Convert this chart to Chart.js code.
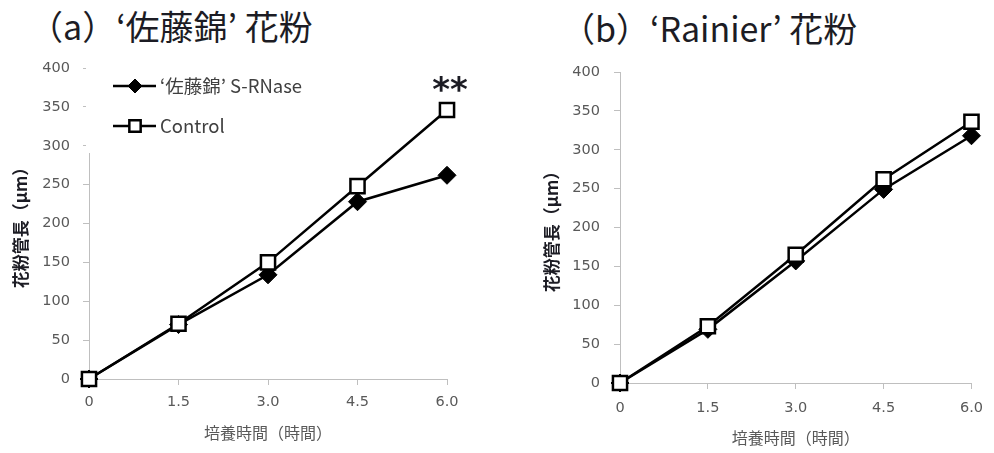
<!DOCTYPE html>
<html>
<head>
<meta charset="utf-8">
<script src="https://cdn.jsdelivr.net/npm/chart.js@4/dist/chart.umd.min.js"></script>
<style>
body { margin:0; background:#fff; width:994px; height:453px; overflow:hidden; position:relative; font-family:'Noto Sans CJK JP', sans-serif; }
.title { position:absolute; font-size:34px; color:#1c1c24; white-space:pre; line-height:1; }
.box { position:absolute; top:0; height:453px; }
</style>
</head>
<body>
<div class="title" style="left:29px; top:9px;">（a）‘佐藤錦’ 花粉</div>
<div class="title" style="left:561px; top:11px;">（b）‘Rainier’ 花粉</div>
<div class="box" style="left:0; width:490px;"><canvas id="chartA"></canvas></div>
<div class="box" style="left:530px; width:464px;"><canvas id="chartB"></canvas></div>
<script>
// data
const hours = ['0', '1.5', '3.0', '4.5', '6.0'];
const satoRNase = [0, 70, 134, 228, 262];
const satoControl = [0, 71, 150, 248, 346];
const rainierRNase = [0, 69, 157, 249, 318];
const rainierControl = [0, 73, 165, 262, 336];
const seriesNames = ['‘佐藤錦’ S-RNase', 'Control'];
const yMax = 400;
const yStep = 50;
const signifMark = '**';

const tickFont = { family: "'DejaVu Sans', sans-serif", size: 14.5 };
const cjk = "'Noto Sans CJK JP', sans-serif";
const gray = '#595959';
const axisGray = '#bfbfbf';

function marker(ctx, style, x, y, r, fill, lw) {
    ctx.save();
    ctx.beginPath();
    if (style === 'rectRot') {
        ctx.moveTo(x, y - r); ctx.lineTo(x + r, y); ctx.lineTo(x, y + r); ctx.lineTo(x - r, y);
    } else {
        const s = r * Math.SQRT1_2;
        ctx.rect(x - s, y - s, 2 * s, 2 * s);
    }
    ctx.closePath();
    ctx.fillStyle = fill;
    ctx.fill();
    ctx.lineWidth = lw;
    ctx.strokeStyle = '#000';
    ctx.stroke();
    ctx.restore();
}

// legend drawn inside the plot area, excel style (line + marker)
const innerLegend = {
    id: 'innerLegend',
    afterDraw(chart, args, opts) {
        if (!opts.show) return;
        const ctx = chart.ctx;
        const a = chart.chartArea;
        ctx.save();
        ctx.fillStyle = '#fff';
        ctx.fillRect(a.left - 3, a.top - 12, 250, 97);
        const rows = [a.top + 18, a.top + 58];
        chart.data.datasets.forEach((ds, i) => {
            const y = rows[i];
            ctx.strokeStyle = '#000';
            ctx.lineWidth = 2.5;
            ctx.beginPath();
            ctx.moveTo(a.left + 24, y);
            ctx.lineTo(a.left + 67, y);
            ctx.stroke();
            if (ds.pointStyle === 'rectRot') marker(ctx, 'rectRot', a.left + 46, y, 7, '#000', 1);
            else marker(ctx, 'rect', a.left + 46, y, 8, '#fff', 2.5);
            ctx.fillStyle = '#404040';
            ctx.font = "18.5px " + cjk;
            ctx.textBaseline = 'middle';
            ctx.textAlign = 'left';
            ctx.fillText(ds.label, a.left + 71, y);
        });
        ctx.restore();
    }
};

// significance mark over the last control point
const signif = {
    id: 'signif',
    afterDraw(chart, args, opts) {
        if (!opts.text) return;
        const ctx = chart.ctx;
        const ds = chart.data.datasets[1];
        const idx = ds.data.length - 1;
        const x = chart.scales.x.getPixelForValue(idx);
        const y = chart.scales.y.getPixelForValue(ds.data[idx]);
        ctx.save();
        ctx.fillStyle = '#1c1c24';
        ctx.font = "bold 34px 'DejaVu Sans', sans-serif";
        ctx.textAlign = 'center';
        ctx.textBaseline = 'middle';
        ctx.fillText(opts.text, x + 3, y - 18);
        ctx.restore();
    }
};

function makeChart(id, rnase, control, lay) {
    const ctx = document.getElementById(id).getContext('2d');
    return new Chart(ctx, {
        type: 'line',
        data: {
            labels: hours,
            datasets: [{
                label: seriesNames[0],
                data: rnase,
                borderColor: '#000',
                borderWidth: 2.5,
                pointStyle: 'rectRot',
                pointRadius: 9,
                pointBackgroundColor: '#000',
                pointBorderColor: '#000',
                pointBorderWidth: 1,
                tension: 0,
                clip: false,
                order: 1
            }, {
                label: seriesNames[1],
                data: control,
                borderColor: '#000',
                borderWidth: 2.5,
                pointStyle: 'rect',
                pointRadius: 10,
                pointBackgroundColor: '#fff',
                pointBorderColor: '#000',
                pointBorderWidth: 2.5,
                tension: 0,
                clip: false,
                order: 0
            }]
        },
        options: {
            responsive: true,
            maintainAspectRatio: false,
            animation: false,
            layout: { padding: { top: lay.top, right: lay.right, left: 0, bottom: 0 } },
            scales: {
                x: {
                    type: 'category',
                    offset: false,
                    grid: { drawOnChartArea: false, drawTicks: true, tickLength: 6, color: axisGray, offset: false },
                    border: { color: axisGray },
                    ticks: { color: gray, font: tickFont, padding: lay.xPad, maxRotation: 0 },
                    title: { display: true, text: '培養時間（時間）', color: gray, font: { family: cjk, size: 16 }, padding: { bottom: lay.xTitlePad } },
                    afterFit(scale) { scale.height = lay.xHeight; }
                },
                y: {
                    min: 0,
                    max: yMax,
                    grid: { drawOnChartArea: false, drawTicks: true, tickLength: 6, color: axisGray },
                    border: { color: axisGray },
                    ticks: { stepSize: yStep, color: gray, font: tickFont, padding: lay.yPad },
                    title: { display: true, text: '花粉管長（μm）', color: '#1c1c24', font: { family: cjk, size: 17, weight: 'bold' }, padding: { top: lay.yTitlePad } },
                    afterFit(scale) { scale.width = lay.yWidth; }
                }
            },
            plugins: {
                legend: { display: false },
                tooltip: { enabled: false },
                innerLegend: { show: lay.legend },
                signif: { text: lay.mark }
            }
        },
        plugins: [innerLegend, signif]
    });
}

document.addEventListener('DOMContentLoaded', () => {
    makeChart('chartA', satoRNase, satoControl, {
        top: 68, right: 43, yWidth: 89, xHeight: 74,
        xPad: 9, yPad: 13, xTitlePad: 10, yTitlePad: 10,
        legend: true, mark: signifMark
    });
    makeChart('chartB', rainierRNase, rainierControl, {
        top: 72, right: 17, yWidth: 90, xHeight: 70,
        xPad: 11, yPad: 14, xTitlePad: 5, yTitlePad: 11,
        legend: false, mark: ''
    });
});
</script>
</body>
</html>
